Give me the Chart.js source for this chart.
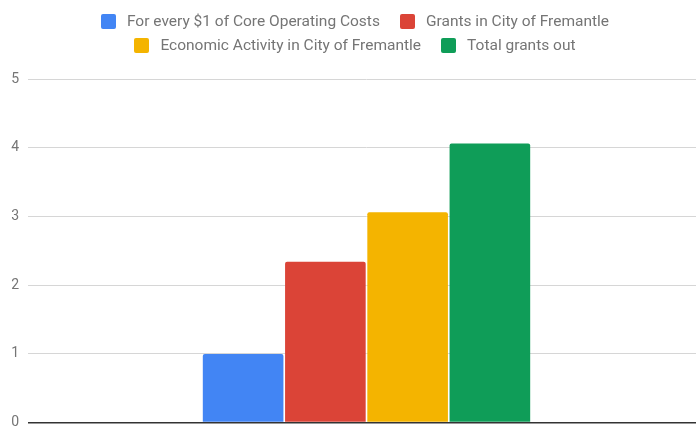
<!DOCTYPE html>
<html>
<head>
<meta charset="utf-8">
<script src="https://cdn.jsdelivr.net/npm/chart.js@4/dist/chart.umd.min.js"></script>
<style>
  html, body { margin: 0; padding: 0; background: #fff; overflow: hidden; }
  body { width: 696px; height: 429px; position: relative; font-family: Roboto, Arial, sans-serif; }
  #wrap { position: absolute; left: 0; top: 0; width: 705px; height: 440px; }
  .legRow { position: absolute; left: 0; width: 710px; display: flex; justify-content: center; white-space: nowrap; z-index: 2; }
  .item { display: flex; align-items: center; margin: 0 10px; color: #757575; font-size: 15.5px; }
  .box { width: 15px; height: 15px; border-radius: 2px; margin-right: 11px; }
</style>
</head>
<body>
<div id="legRow1" class="legRow" style="top:12px;height:18px"></div>
<div id="legRow2" class="legRow" style="top:36px;height:18px"></div>
<div id="wrap"><canvas id="c" width="705" height="440"></canvas></div>
<script>
(function () {
  "use strict";

  const categories = [""];
  const seriesNames = [
    "For every $1 of Core Operating Costs",
    "Grants in City of Fremantle",
    "Economic Activity in City of Fremantle",
    "Total grants out"
  ];
  const seriesValues = [1.0, 2.34, 3.06, 4.06];
  const seriesColors = ["#4285f4", "#db4437", "#f4b400", "#0f9d58"];
  const yTicks = [0, 1, 2, 3, 4, 5];

  // legend, two centred rows like the original
  const rows = [[0, 1], [2, 3]];
  rows.forEach((idx, r) => {
    const row = document.getElementById("legRow" + (r + 1));
    row.innerHTML = idx.map(i =>
      `<div class="item"><span class="box" style="background:${seriesColors[i]}"></span><span>${seriesNames[i]}</span></div>`
    ).join("");
  });

  const datasets = seriesNames.map((name, i) => ({
    label: name,
    data: [seriesValues[i]],
    backgroundColor: seriesColors[i],
    borderWidth: 0,
    borderRadius: 2,
    barPercentage: 0.98,
    categoryPercentage: 0.486
  }));

  new Chart(document.getElementById("c"), {
    type: "bar",
    data: { labels: categories, datasets },
    options: {
      responsive: false,
      animation: false,
      layout: { padding: { top: 79, bottom: 6, left: 0, right: 0 } },
      plugins: { legend: { display: false }, tooltip: { enabled: false } },
      scales: {
        x: { display: false },
        y: {
          min: 0, max: 5,
          afterFit: s => { s.width = 28; },
          afterBuildTicks: s => { s.ticks = yTicks.map(v => ({ value: v })); },
          border: { display: false },
          grid: {
            drawTicks: false,
            color: c => c.tick && c.tick.value === 0 ? "#333333" : "#d6d6d6",
            lineWidth: c => c.tick && c.tick.value === 0 ? 1.5 : 1
          },
          ticks: { padding: 9, color: "#757575", font: { family: "Roboto", size: 14 } }
        }
      }
    }
  });
})();
</script>
</body>
</html>
